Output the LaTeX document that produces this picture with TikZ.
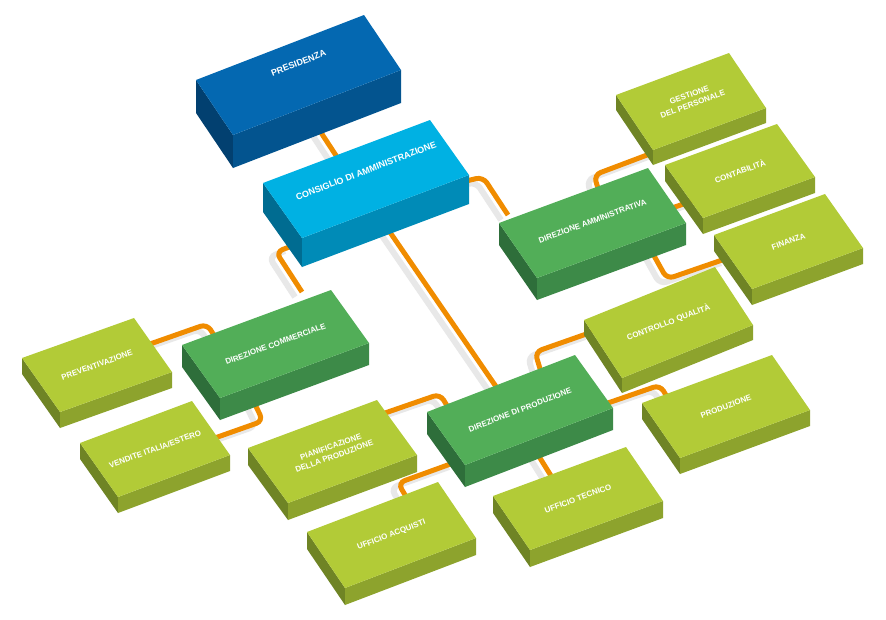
\documentclass[tikz,border=0pt]{standalone}
\usepackage{fontspec}
\setmainfont{Liberation Sans}
\usetikzlibrary{calc}
\definecolor{bluetop}{HTML}{0468B1}\definecolor{bluefront}{HTML}{03548F}\definecolor{blueside}{HTML}{024070}
\definecolor{cyantop}{HTML}{00B1E3}\definecolor{cyanfront}{HTML}{008BB7}\definecolor{cyanside}{HTML}{006C91}
\definecolor{dgtop}{HTML}{52AE58}\definecolor{dgfront}{HTML}{3D8A48}\definecolor{dgside}{HTML}{2E6E3A}
\definecolor{lgtop}{HTML}{B2CB37}\definecolor{lgfront}{HTML}{8DA32D}\definecolor{lgside}{HTML}{6F8425}
\definecolor{conn}{HTML}{F08C00}
\newcommand\isobox[6]{% name, L, u, v, depth, colour prefix
  \coordinate (#1-L) at #2;
  \coordinate (#1-T) at ($(#1-L)+#3$);
  \coordinate (#1-F) at ($(#1-L)+#4$);
  \coordinate (#1-R) at ($(#1-T)+#4$);
  \fill[fill=#6side] (#1-L) -- (#1-F) -- ($(#1-F)+(0,#5)$) -- ($(#1-L)+(0,#5)$) -- cycle;
  \fill[fill=#6front] (#1-F) -- (#1-R) -- ($(#1-R)+(0,#5)$) -- ($(#1-F)+(0,#5)$) -- cycle;
  \fill[fill=#6top] (#1-L) -- (#1-T) -- (#1-R) -- (#1-F) -- cycle;
}
\newcommand\conpath[1]{%
  \draw[shadowline] #1;
  \draw[connline] #1;
}
\begin{document}
\begin{tikzpicture}[x={(1pt,0)},y={(0,-1pt)},
  connline/.style={draw=conn,line width=5pt,rounded corners=7pt},
  shadowline/.style={draw=black!50,line width=6pt,rounded corners=7pt,opacity=0.18,shift={(-7,5)}},
  boxtext/.style={text=white,font=\bfseries\fontsize{8}{10}\selectfont,align=center,inner sep=0pt}]
\useasboundingbox (0,0) rectangle (886,619);
% connectors
\conpath{(318,128) -- (337,157)}
\conpath{(385,225) -- (497,388)}
\conpath{(292,246) -- (276,252) -- (302,292)}
\conpath{(466,181) -- (483,177) -- (508,215)}
\conpath{(600,195) -- (594,175) -- (655,152)}
\conpath{(672,208) -- (692,201)}
\conpath{(648,245) -- (667,279) -- (728,258)}
\conpath{(150,344) -- (207,324) -- (220,345)}
\conpath{(252,398) -- (263,421) -- (212,439)}
\conpath{(385,413) -- (440,394) -- (452,414)}
\conpath{(456,462) -- (398,483) -- (408,500)}
\conpath{(535,450) -- (553,479)}
\conpath{(541,372) -- (535,352) -- (592,332)}
\conpath{(605,404) -- (660,385) -- (670,402)}
% boxes
\isobox{pres}{(196,80)}{(168,-65)}{(37,55)}{33}{blue}
\node[boxtext,rotate=21,font=\bfseries\fontsize{9}{10}\selectfont] (presT) at ($(pres-L)!0.5!(pres-R)+(0,-12)$) {PRESIDENZA};
\isobox{cons}{(263,183)}{(167,-63)}{(39,55)}{29}{cyan}
\node[boxtext,rotate=21,font=\bfseries\fontsize{9}{10}\selectfont] (consT) at ($(cons-L)!0.5!(cons-R)+(0,-8)$) {CONSIGLIO DI AMMINISTRAZIONE};
\isobox{amm}{(499,223)}{(149,-55)}{(38,55)}{22}{dg}
\node[boxtext,rotate=20] (ammT) at ($(amm-L)!0.5!(amm-R)+(0,-2)$) {DIREZIONE AMMINISTRATIVA};
\isobox{comm}{(182,345)}{(149,-55)}{(38,53)}{22}{dg}
\node[boxtext,rotate=20] (commT) at ($(comm-L)!0.5!(comm-R)$) {DIREZIONE COMMERCIALE};
\isobox{gest}{(616,95)}{(113,-42)}{(37,55)}{15}{lg}
\node[boxtext,rotate=20] (gestT) at ($(gest-L)!0.5!(gest-R)+(0,-2)$) {GESTIONE\\DEL PERSONALE};
\isobox{cont}{(665,165)}{(112,-41)}{(38,53)}{16}{lg}
\node[boxtext,rotate=20] (contT) at ($(cont-L)!0.5!(cont-R)$) {CONTABILITÀ};
\isobox{fin}{(714,235)}{(111,-41)}{(38,54)}{16}{lg}
\node[boxtext,rotate=20] (finT) at ($(fin-L)!0.5!(fin-R)$) {FINANZA};
\isobox{prev}{(22,358)}{(112,-40)}{(38,54)}{16}{lg}
\node[boxtext,rotate=20] (prevT) at ($(prev-L)!0.5!(prev-R)$) {PREVENTIVAZIONE};
\isobox{vend}{(80,443)}{(112,-42)}{(38,54)}{16}{lg}
\node[boxtext,rotate=20] (vendT) at ($(vend-L)!0.5!(vend-R)$) {VENDITE ITALIA/ESTERO};
\isobox{ctrl}{(584,320)}{(131,-53)}{(38,58)}{15}{lg}
\node[boxtext,rotate=21] (ctrlT) at ($(ctrl-L)!0.5!(ctrl-R)$) {CONTROLLO QUALITÀ};
\isobox{prodz}{(642,403)}{(130,-48)}{(38,55)}{16}{lg}
\node[boxtext,rotate=20] (prodzT) at ($(prodz-L)!0.5!(prodz-R)$) {PRODUZIONE};
\isobox{pian}{(248,448)}{(129,-48)}{(40,55)}{17}{lg}
\node[boxtext,rotate=20] (pianT) at ($(pian-L)!0.5!(pian-R)$) {PIANIFICAZIONE\\DELLA PRODUZIONE};
\isobox{prod}{(427,412)}{(148,-57)}{(38,53)}{22}{dg}
\node[boxtext,rotate=21] (prodT) at ($(prod-L)!0.5!(prod-R)$) {DIREZIONE DI PRODUZIONE};
\isobox{acq}{(307,532)}{(131,-50)}{(38,56)}{17}{lg}
\node[boxtext,rotate=21] (acqT) at ($(acq-L)!0.5!(acq-R)$) {UFFICIO ACQUISTI};
\isobox{tec}{(493,496)}{(133,-49)}{(37,54)}{17}{lg}
\node[boxtext,rotate=20] (tecT) at ($(tec-L)!0.5!(tec-R)$) {UFFICIO TECNICO};
\end{tikzpicture}
\end{document}
